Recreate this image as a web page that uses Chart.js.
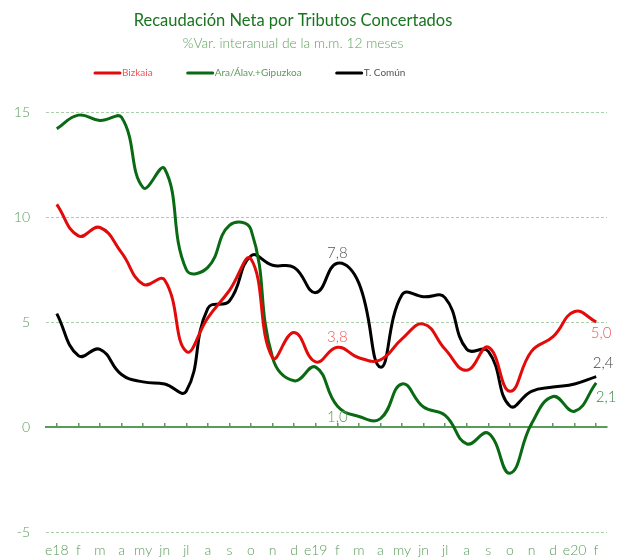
<!DOCTYPE html>
<html lang="es">
<head>
<meta charset="utf-8">
<title>Recaudación Neta por Tributos Concertados</title>
<script src="https://cdn.jsdelivr.net/npm/chart.js@4.4.4/dist/chart.umd.min.js"></script>
<style>
  html, body { margin: 0; padding: 0; background: #fff; }
  canvas { display: block; }
</style>
</head>
<body>
<canvas id="chart" width="622" height="559"></canvas>
<script>
const months = ['e18', 'f', 'm', 'a', 'my', 'jn', 'jl', 'a', 's', 'o', 'n', 'd',
                'e19', 'f', 'm', 'a', 'my', 'jn', 'jl', 'a', 's', 'o', 'n', 'd',
                'e20', 'f'];
const bizkaia = [10.6, 9.1, 9.5, 8.3, 6.8, 7.0, 3.6, 5.2, 6.5, 8.0, 3.3, 4.5,
                 3.1, 3.8, 3.3, 3.2, 4.2, 4.9, 3.7, 2.7, 3.8, 1.7, 3.6, 4.3,
                 5.5, 5.0];
const araGipuzkoa = [14.2, 14.85, 14.6, 14.75, 11.4, 12.3, 7.5, 7.6, 9.6, 9.4, 3.3, 2.2,
                     2.85, 1.0, 0.5, 0.4, 2.05, 0.95, 0.55, -0.8, -0.3, -2.2, 0.15, 1.45,
                     0.75, 2.1];
const tComun = [5.4, 3.4, 3.7, 2.5, 2.15, 2.05, 1.7, 5.65, 6.0, 8.15, 7.7, 7.6,
                6.4, 7.8, 6.85, 2.85, 6.3, 6.2, 6.15, 3.7, 3.6, 1.0, 1.7, 1.9,
                2.05, 2.4];
const yTicks = [-5, 0, 5, 10, 15];

const titleText = 'Recaudación Neta por Tributos Concertados';
const subtitleText = '%Var. interanual de la m.m. 12 meses';

// which points carry a value label, and where the label sits relative to the point
const pointLabels = [
  { dataset: 0, index: 13, text: '3,8', dx: 0, dy: -10, color: '#f05a5a' },
  { dataset: 0, index: 25, text: '5,0', dx: 5, dy: 11, color: '#f05a5a' },
  { dataset: 1, index: 13, text: '1,0', dx: 0, dy: 11, color: '#5a9a5a' },
  { dataset: 1, index: 25, text: '2,1', dx: 10, dy: 14, color: '#3a8a44' },
  { dataset: 2, index: 13, text: '7,8', dx: 0, dy: -10, color: '#555555' },
  { dataset: 2, index: 25, text: '2,4', dx: 7, dy: -13, color: '#444444' }
];

const headerPlugin = {
  id: 'header',
  afterDraw(chart) {
    const ctx = chart.ctx;
    ctx.save();
    ctx.textBaseline = 'middle';
    ctx.textAlign = 'center';
    ctx.fillStyle = '#18751f';
    ctx.font = '16.5px Lato';
    ctx.fillText(titleText, 293, 21);
    ctx.fillStyle = '#5c9e5c';
    ctx.font = '300 13.8px Lato';
    ctx.fillText(subtitleText, 293, 44);

    // legend
    ctx.font = '10px Lato';
    ctx.textAlign = 'left';
    let x = 95;
    const y = 73;
    chart.data.datasets.forEach(ds => {
      ctx.strokeStyle = ds.borderColor;
      ctx.lineWidth = 3;
      ctx.lineCap = 'round';
      ctx.beginPath();
      ctx.moveTo(x, y);
      ctx.lineTo(x + 25, y);
      ctx.stroke();
      ctx.fillStyle = ds.legendColor;
      ctx.fillText(ds.label, x + 27, y);
      x += 27 + ctx.measureText(ds.label).width + 35;
    });
    ctx.restore();
  }
};

const labelPlugin = {
  id: 'pointLabels',
  afterDatasetsDraw(chart) {
    const ctx = chart.ctx;
    ctx.save();
    ctx.font = '300 15px Lato';
    ctx.textAlign = 'center';
    ctx.textBaseline = 'middle';
    pointLabels.forEach(l => {
      const pt = chart.getDatasetMeta(l.dataset).data[l.index];
      ctx.fillStyle = l.color;
      ctx.fillText(l.text, pt.x + l.dx, pt.y + l.dy);
    });
    ctx.restore();
  }
};

new Chart(document.getElementById('chart'), {
  type: 'line',
  data: {
    labels: months,
    datasets: [
      { label: 'Bizkaia', data: bizkaia, borderColor: '#e30a0a', legendColor: '#ee5555' },
      { label: 'Ara/Álav.+Gipuzkoa', data: araGipuzkoa, borderColor: '#0a6a14', legendColor: '#5a9a5a' },
      { label: 'T. Común', data: tComun, borderColor: '#000000', legendColor: '#555555' }
    ].map(ds => Object.assign(ds, {
      borderWidth: 3,
      tension: 0.45,
      pointRadius: 0,
      fill: false
    }))
  },
  options: {
    responsive: false,
    devicePixelRatio: 1,
    animation: false,
    layout: { padding: { top: 112, left: 10, right: 15, bottom: 2 } },
    plugins: {
      legend: { display: false },
      title: { display: false },
      tooltip: { enabled: false }
    },
    scales: {
      x: {
        type: 'category',
        offset: true,
        grid: { display: false, drawTicks: false },
        border: { display: false },
        afterFit: axis => { axis.height = 25; },
        ticks: {
          color: '#5a9a5a',
          font: { family: 'Lato', size: 14, weight: 300 },
          autoSkip: false,
          maxRotation: 0,
          padding: 10
        }
      },
      // zero line with tick marks, crossing the chart at y = 0
      x2: {
        type: 'category',
        position: { y: 0 },
        offset: true,
        grid: {
          drawOnChartArea: false,
          drawTicks: true,
          tickLength: -5,
          color: '#5a9a5a',
          lineWidth: 1.5
        },
        border: { display: true, color: '#5a9a5a', width: 2 },
        ticks: { display: false }
      },
      y: {
        min: -5,
        max: 15,
        afterBuildTicks: axis => { axis.ticks = yTicks.map(v => ({ value: v })); },
        afterFit: axis => { axis.width = 36; },
        ticks: {
          color: '#5a9a5a',
          font: { family: 'Lato', size: 14, weight: 300 },
          padding: 16
        },
        grid: {
          color: c => (c.tick && c.tick.value === 0) ? 'rgba(0,0,0,0)' : '#a9cfa9',
          drawTicks: false,
          lineWidth: 1,
          borderDash: [3, 2]
        },
        border: { display: false, dash: [3, 2] }
      }
    }
  },
  plugins: [headerPlugin, labelPlugin]
});
</script>
</body>
</html>
